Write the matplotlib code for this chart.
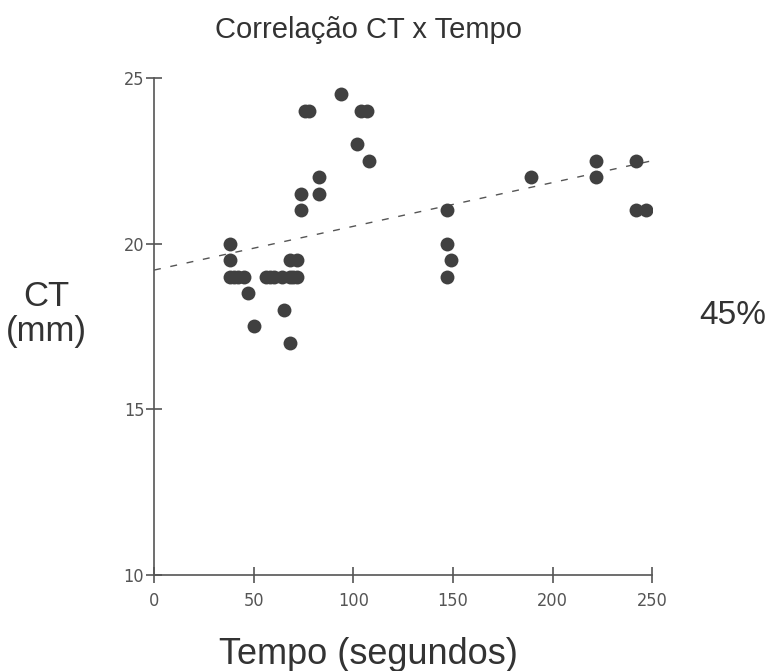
import matplotlib
matplotlib.use("Agg")
import matplotlib.pyplot as plt

# data
tempo = [94, 76, 78, 104, 107, 102, 108, 83, 83, 74, 74,
         38, 38, 38, 40, 42, 45, 47, 50,
         56, 58, 60, 64, 68, 70, 72, 68, 72, 65, 68,
         147, 147, 149, 147, 189, 222, 222, 242, 242, 247]
ct = [24.5, 24, 24, 24, 24, 23, 22.5, 22, 21.5, 21.5, 21,
      20, 19.5, 19, 19, 19, 19, 18.5, 17.5,
      19, 19, 19, 19, 19, 19, 19, 19.5, 19.5, 18, 17,
      21, 20, 19.5, 19, 22, 22.5, 22, 22.5, 21, 21]
trend_x = [0, 250]
trend_y = [19.2, 22.5]
x_ticks = [0, 50, 100, 150, 200, 250]
y_ticks = [10, 15, 20, 25]

grey = "#404040"
axis_col = "#555555"
text_col = "#333333"

fig = plt.figure(figsize=(7.7, 6.71), dpi=100)
ax = fig.add_axes([0.2, 0.143, 0.647, 0.741])

ax.plot(trend_x, trend_y, color=axis_col, linewidth=1, linestyle=(0, (5, 7)))
ax.scatter(tempo, ct, s=100, color=grey, zorder=3, linewidths=0)

ax.set_xlim(0, 250)
ax.set_ylim(10, 25)
ax.set_xticks(x_ticks)
ax.set_yticks(y_ticks)

for side in ["top", "right"]:
    ax.spines[side].set_visible(False)
for side in ["left", "bottom"]:
    ax.spines[side].set_color(axis_col)
    ax.spines[side].set_linewidth(1.2)

ax.tick_params(direction="inout", length=12, width=1.2, color=axis_col,
               labelcolor=axis_col, labelsize=13)
ax.tick_params(axis="x", pad=6)
ax.tick_params(axis="y", pad=1)
for lab in ax.get_xticklabels() + ax.get_yticklabels():
    lab.set_family("DejaVu Sans")
    lab.set_stretch("condensed")

font = ["Liberation Sans", "DejaVu Sans"]
fig.text(0.478, 0.955, "Correlação CT x Tempo", ha="center", va="center",
         fontsize=21, family=font, color=text_col)
fig.text(0.479, 0.025, "Tempo (segundos)", ha="center", va="center",
         fontsize=26, family=font, color=text_col)
fig.text(0.06, 0.532, "CT\n(mm)", ha="center", va="center",
         fontsize=25, family=font, color=text_col, linespacing=1.05)
fig.text(0.952, 0.53, "45%", ha="center", va="center",
         fontsize=24, family=font, color=text_col)

fig.savefig("out.png", dpi=100, facecolor="white")
